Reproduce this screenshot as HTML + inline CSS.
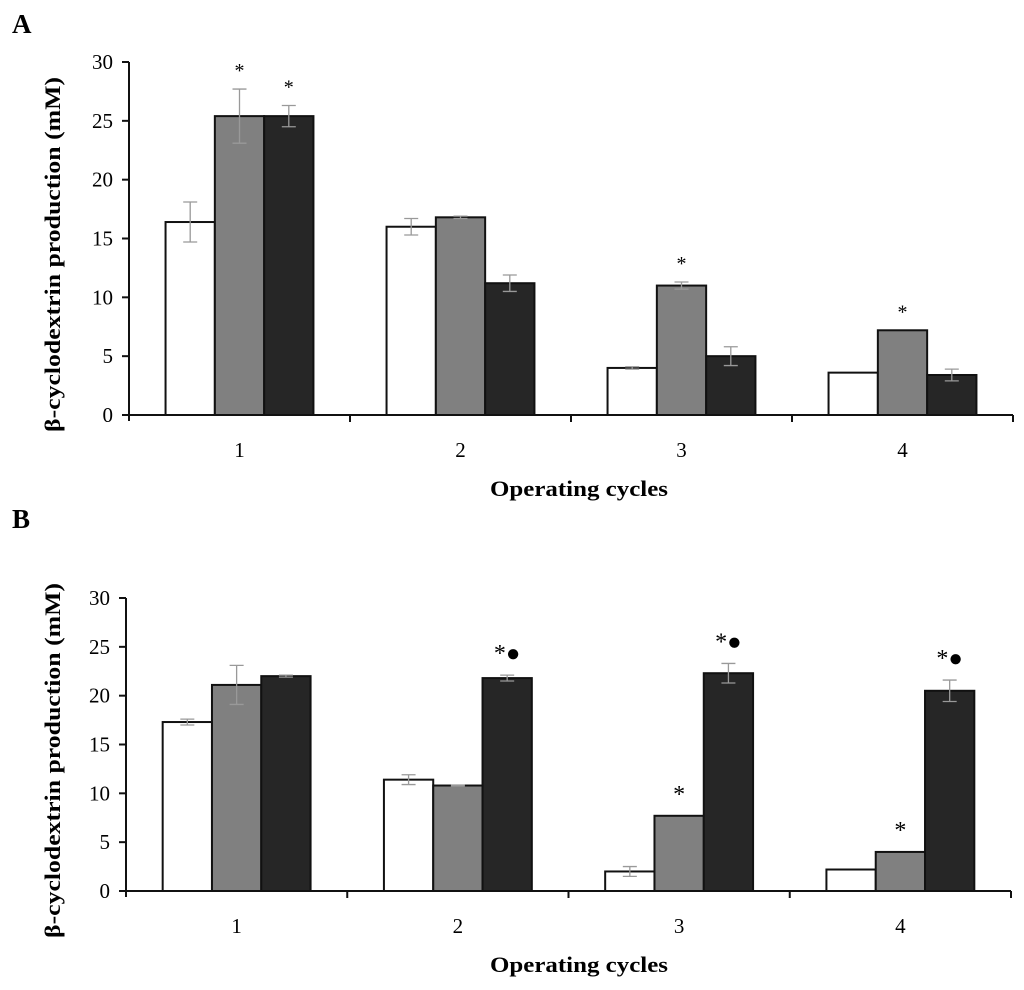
<!DOCTYPE html>
<html><head><meta charset="utf-8"><style>
body{margin:0;background:#fff;width:1024px;height:985px;overflow:hidden}
svg text{font-family:"Liberation Serif",serif}
</style></head><body>
<svg id="svg" width="1024" height="985"></svg>
<script>
const categories=["1","2","3","4"];
const yTicks=[0,5,10,15,20,25,30];
const aWhite=[16.4,16.0,4.0,3.6], aGray=[25.4,16.8,11.0,7.2], aBlack=[25.4,11.2,5.0,3.4];
const aWhiteErr=[1.7,0.7,0.1,0], aGrayErr=[2.3,0.1,0.3,0], aBlackErr=[0.9,0.7,0.8,0.5];
const aMarks=[["","*","*"],["","",""],["","*",""],["","*",""]];
const bWhite=[17.3,11.4,2.0,2.2], bGray=[21.1,10.8,7.7,4.0], bBlack=[22.0,21.8,22.3,20.5];
const bWhiteErr=[0.3,0.5,0.5,0], bGrayErr=[2.0,0.05,0,0], bBlackErr=[0.1,0.3,1.0,1.1];
const bMarks=[["","",""],["","","*●"],["","*","*●"],["","*","*●"]];
const NS="http://www.w3.org/2000/svg";
const svg=document.getElementById('svg');
function el(t,a,p){const e=document.createElementNS(NS,t);for(const k in a)e.setAttribute(k,a[k]);(p||svg).appendChild(e);return e;}
function panel(cfg){
  const g=el('g',{});
  
  
  const y=v=>cfg.y0-(cfg.y0-cfg.y30)*v/30;
  const step=(cfg.xEnd-cfg.x0)/categories.length, bw=49.3, pad=(step-3*bw)/2;
  const fills=['#fff','#808080','#262626'];
  const series=[cfg.w,cfg.g,cfg.b], errs=[cfg.we,cfg.ge,cfg.be];
  categories.forEach((c,i)=>{
    for(let s=0;s<3;s++){
      const v=series[s][i], x=cfg.x0+i*step+pad+s*bw;
      const r=el('rect',{x:x,y:y(v),width:bw,height:y(0)-y(v),fill:fills[s],stroke:'#111','stroke-width':2},g);
      
      
      const e=errs[s][i];
      if(e>0){const cx=x+bw/2;
        el('path',{d:`M${cx-7},${y(v+e)}H${cx+7}M${cx},${y(v+e)}V${y(v-e)}M${cx-7},${y(v-e)}H${cx+7}`,stroke:'#999','stroke-width':1.3,fill:'none'},g);}
      const m=cfg.m[i][s];
      if(m){const top=y(v+e)-(cfg.id==='a'?12:14);
        const t=el('text',{x:x+bw/2,y:top,'text-anchor':'middle','font-size':cfg.id==='a'?20:24},g);
        t.textContent=m;
        
        }
    }
    const lt=el('text',{x:cfg.x0+i*step+step/2,y:cfg.y0+42,'text-anchor':'middle','font-size':21},g);
    lt.textContent=c;
    
    
  });
  el('line',{x1:cfg.x0,y1:cfg.y0,x2:cfg.xEnd,y2:cfg.y0,stroke:'#111','stroke-width':2},g);
  el('line',{x1:cfg.x0,y1:cfg.y30,x2:cfg.x0,y2:cfg.y0+6,stroke:'#111','stroke-width':2},g);
  for(let i=1;i<=categories.length;i++){const x=cfg.x0+i*step;el('line',{x1:x,y1:cfg.y0,x2:x,y2:cfg.y0+7,stroke:'#111','stroke-width':2},g);}
  yTicks.forEach(t=>{
    el('line',{x1:cfg.x0-7,y1:y(t),x2:cfg.x0,y2:y(t),stroke:'#111','stroke-width':2},g);
    const tx=el('text',{x:cfg.x0-16,y:y(t)+7,'text-anchor':'end','font-size':21},g);
    tx.textContent=t;
    
    
  });
  const xt=el('text',{x:579,y:cfg.y0+81,'text-anchor':'middle','font-size':22,'font-weight':'bold',textLength:178,lengthAdjust:'spacingAndGlyphs'},g);
  xt.textContent='Operating cycles';
  
  
  const cy=(cfg.y0+cfg.y30)/2+16;
  const yt=el('text',{x:60,y:cy,'text-anchor':'middle','font-size':22,'font-weight':'bold',textLength:355,lengthAdjust:'spacingAndGlyphs',transform:`rotate(-90 60 ${cy})`},g);
  yt.textContent='β-cyclodextrin production (mM)';
  
  
  const pl=el('text',{x:12,y:cfg.labelY,'font-size':27,'font-weight':'bold'},g);
  pl.textContent=cfg.label;
  
  
}
panel({id:'a',name:'panel-a',label:'A',labelY:33,x0:129,xEnd:1013,y0:415,y30:62,w:aWhite,g:aGray,b:aBlack,we:aWhiteErr,ge:aGrayErr,be:aBlackErr,m:aMarks});
panel({id:'b',name:'panel-b',label:'B',labelY:528,x0:126,xEnd:1011,y0:891,y30:598,w:bWhite,g:bGray,b:bBlack,we:bWhiteErr,ge:bGrayErr,be:bBlackErr,m:bMarks});
</script>
</body></html>
